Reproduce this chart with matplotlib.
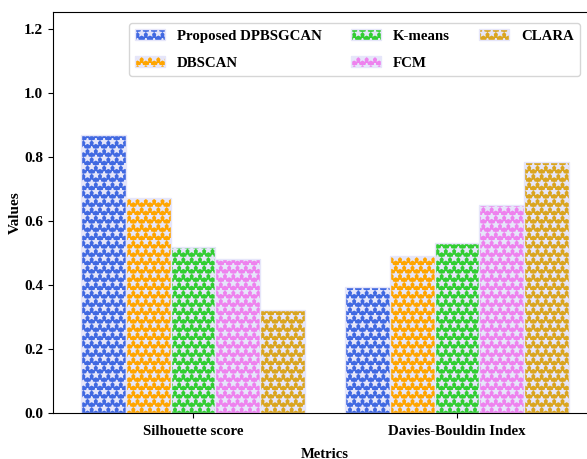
import matplotlib
matplotlib.use("Agg")
import matplotlib.pyplot as plt
import numpy as np

plt.rcParams['font.family'] = ['Liberation Serif', 'DejaVu Serif']
plt.rcParams['font.weight'] = 'bold'

metrics = ["Silhouette score", "Davies-Bouldin Index"]
methods = ["Proposed DPBSGCAN", "DBSCAN", "K-means", "FCM", "CLARA"]
values = {
    "Proposed DPBSGCAN": [0.869, 0.393],
    "DBSCAN": [0.673, 0.491],
    "K-means": [0.520, 0.532],
    "FCM": [0.481, 0.650],
    "CLARA": [0.321, 0.785],
}
colors = ["royalblue", "orange", "limegreen", "violet", "goldenrod"]

fig = plt.figure(figsize=(5.87, 4.59), dpi=100)
ax = fig.add_axes([0.0903, 0.1002, 0.9267, 0.8736])

x = np.arange(len(metrics))
w = 0.17
for i, m in enumerate(methods):
    ax.bar(x + (i - 2) * w, values[m], w, color=colors[i], edgecolor='lavender',
           hatch='**', linewidth=1, label=m)

ax.set_xticks(x)
ax.set_xticklabels(metrics, fontsize=10.7, fontweight='bold')
ax.tick_params(axis='x', pad=5)
ax.set_xlim(-0.53, 1.53)
ax.set_ylim(0, 1.253)
ax.set_yticks([0.0, 0.2, 0.4, 0.6, 0.8, 1.0, 1.2])
ax.set_yticklabels(["0.0", "0.2", "0.4", "0.6", "0.8", "1.0", "1.2"], fontsize=11, fontweight='bold')
ax.set_xlabel("Metrics", fontsize=10.5, fontweight='bold', labelpad=7)
ax.set_ylabel("Values", fontsize=11, fontweight='bold', labelpad=2)
ax.legend(ncol=3, loc='upper right', bbox_to_anchor=(0.982, 0.99),
          prop={'weight': 'bold', 'size': 10.7}, labelspacing=0.9)

fig.savefig("out.png", dpi=100)
